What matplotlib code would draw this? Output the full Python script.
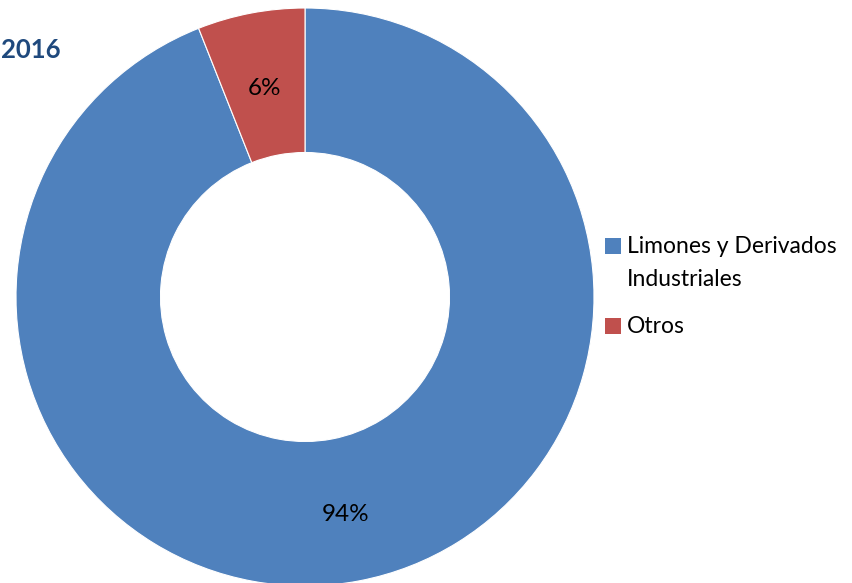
import matplotlib
matplotlib.use("Agg")
import matplotlib.pyplot as plt
from matplotlib.patches import Rectangle

categories = ["Limones y Derivados\nIndustriales", "Otros"]
values = [94, 6]
colors = ["#4F81BD", "#C0504D"]
title = "2016"

plt.rcParams['font.family'] = ['Lato', 'DejaVu Sans']

W, H = 853, 583
fig = plt.figure(figsize=(W / 100, H / 100), dpi=100)
cx, cy, r = 305, 297, 289
ax = fig.add_axes([(cx - r) / W, (H - cy - r) / H, 2 * r / W, 2 * r / H])
ax.set_aspect('equal')

wedges, texts, autotexts = ax.pie(
    values, colors=colors, startangle=90, counterclock=False,
    radius=1.0, autopct='%1.0f%%', pctdistance=0.75,
    wedgeprops=dict(width=0.5, edgecolor='white', linewidth=0.8),
    textprops=dict(fontsize=17.5, color='black'))
ax.set_xlim(-1, 1)
ax.set_ylim(-1, 1)
for t in autotexts:
    x, y = t.get_position()
    t.set_position((x, y - 0.015))

fig.text(1 / W, 1 - 50 / H, title, fontsize=18.5, fontweight='bold',
         color='#1F497D', ha='left', va='center')

# legend: marker aligned with first line of each entry
entry_tops = [246, 326]  # first-line centre, px from top
sq = 16
for lab, col, yc in zip(categories, colors, entry_tops):
    fig.patches.append(Rectangle((605 / W, 1 - (yc + sq / 2) / H), sq / W, sq / H,
                                 transform=fig.transFigure, facecolor=col,
                                 edgecolor='none'))
    fig.text(627 / W, 1 - (yc - 10) / H, lab, fontsize=16.5, color='black',
             ha='left', va='top', linespacing=1.71)

fig.savefig("out.png", dpi=100)
